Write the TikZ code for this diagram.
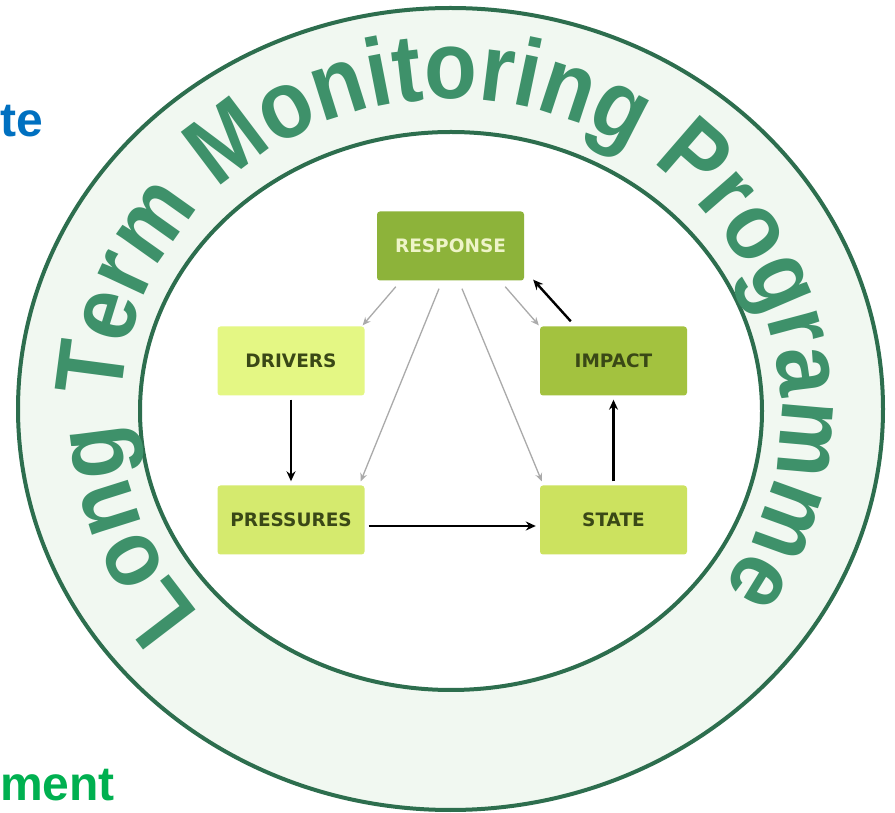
\documentclass[tikz,border=0pt]{standalone}
\usepackage{fontspec}
\setmainfont{Liberation Sans}
\newfontfamily\boxfont{DejaVu Sans}
\newfontfamily\ringfont{Liberation Sans}[FakeStretch=0.9]
\usetikzlibrary{arrows.meta,decorations.text}
\definecolor{ringline}{RGB}{45,110,78}
\definecolor{ringfill}{RGB}{241,248,241}
\definecolor{ringtext}{RGB}{62,145,106}
\definecolor{respfill}{RGB}{141,179,58}
\definecolor{drivfill}{RGB}{228,247,132}
\definecolor{impfill}{RGB}{163,194,63}
\definecolor{presfill}{RGB}{213,234,110}
\definecolor{statfill}{RGB}{204,226,95}
\definecolor{boxtext}{RGB}{58,72,22}
\definecolor{resptext}{RGB}{238,244,200}
\definecolor{greyarrow}{RGB}{170,170,170}
\definecolor{topblue}{RGB}{0,112,192}
\definecolor{botgreen}{RGB}{0,176,80}
\begin{document}
\begin{tikzpicture}[x=1pt,y=1pt,
  box node/.style={rectangle,rounded corners=3pt,minimum width=147pt,minimum height=69pt,inner sep=0pt,font=\boxfont\bfseries\fontsize{18.5}{21}\selectfont,text=boxtext},
  black arrow/.style={-{Stealth[length=10pt,width=9pt]},line width=2.4pt,black,shorten <=4pt,shorten >=4pt},
  grey arrow/.style={-{Stealth[length=8pt,width=7pt]},line width=1.3pt,greyarrow},
  side text/.style={anchor=base west,inner sep=0pt,font=\bfseries\fontsize{48}{48}\selectfont}]
\useasboundingbox (0,0) rectangle (895,812);
\fill[white] (0,0) rectangle (895,812);

% ring
\fill[ringfill,even odd rule] (450.5,403) ellipse[x radius=432.5,y radius=401] (451,401) ellipse[x radius=311,y radius=279];
\draw[ringline,line width=4pt] (450.5,403) ellipse[x radius=432.5,y radius=401];
\draw[ringline,line width=4pt] (451,401) ellipse[x radius=311,y radius=279];
\path[decorate,decoration={text along path,text align=center,text color=ringtext,
  text={|\ringfont\bfseries\fontsize{96}{96}\selectfont|Long Term Monitoring Programme}}]
  (451,401) ++(221:330 and 312) arc[start angle=221,end angle=-35,x radius=330,y radius=312];

% DPSIR boxes
\node[box node,fill=respfill,text=resptext] at (450.5,566) (response) {RESPONSE};
\node[box node,fill=drivfill] at (291,451) (drivers) {DRIVERS};
\node[box node,fill=impfill] at (613.5,451) (impact) {IMPACT};
\node[box node,fill=presfill] at (291,292) (pressures) {PRESSURES};
\node[box node,fill=statfill] at (613.5,292) (state) {STATE};

\path[black arrow] (drivers) edge (pressures);
\path[black arrow] ([yshift=-6pt]pressures.east) edge ([yshift=-6pt]state.west);
\path[black arrow] (state) edge (impact);
\path[black arrow,shorten <=0pt,shorten >=0pt] ([xshift=31pt,yshift=5pt]impact.north west) edge ([xshift=9pt,yshift=1pt]response.south east);

\path[grey arrow] ([xshift=19pt,yshift=-6pt]response.south west) edge ([xshift=-2pt,yshift=1pt]drivers.north east);
\path[grey arrow] ([xshift=-11.5pt,yshift=-8pt]response.south) edge ([xshift=-4pt,yshift=4pt]pressures.north east);
\path[grey arrow] ([xshift=11.5pt,yshift=-8pt]response.south) edge ([xshift=2pt,yshift=4pt]state.north west);
\path[grey arrow] ([xshift=-19pt,yshift=-6pt]response.south east) edge ([xshift=-1pt,yshift=1pt]impact.north west);

% cut-off words at the left edge
\node[side text,text=topblue] at (0,675) (te) {te};
\node[side text,text=botgreen] at (0,12) (ment) {ment};
\end{tikzpicture}
\end{document}
